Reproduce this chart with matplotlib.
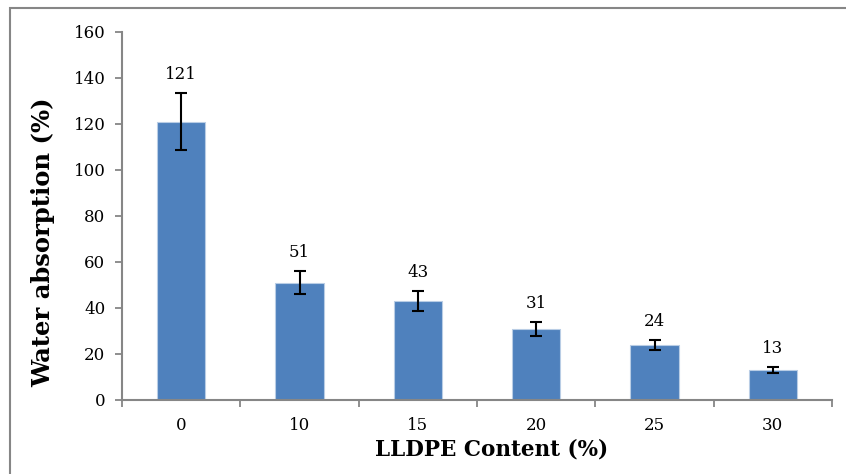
import matplotlib.pyplot as plt
from matplotlib.patches import Rectangle
import numpy as np

# LLDPE content vs water absorption
content = ['0', '10', '15', '20', '25', '30']
absorption = [121, 51, 43, 31, 24, 13]
errors = [12.5, 5, 4.3, 3, 2.3, 1.4]

plt.rcParams['font.family'] = ['DejaVu Serif']

fig = plt.figure(figsize=(8.46, 4.74), dpi=100)
ax = fig.add_axes([122/846, 74/474, 710/846, 368/474])

x = np.arange(len(content))
ax.bar(x, absorption, width=0.41, color='#4F81BD', edgecolor='#B9CDE5', linewidth=0.8,
       yerr=errors, error_kw=dict(ecolor='black', elinewidth=1.5, capsize=4.5, capthick=1.5))

for xi, v, e in zip(x, absorption, errors):
    ax.annotate(str(v), (xi, v + e), xytext=(0, 7), textcoords='offset points',
                ha='center', va='bottom', fontsize=12)

ax.set_xlim(-0.5, len(content) - 0.5)
ax.set_ylim(0, 160)
ax.set_yticks(range(0, 161, 20))
ax.set_xticks(x)
ax.set_xticklabels(content)
ax.set_xticks(np.arange(-0.5, len(content)), minor=True)
ax.tick_params(axis='x', which='major', length=0, pad=12, labelsize=12)
ax.tick_params(axis='x', which='minor', length=5, width=1.3, color='#868686', direction='out')
ax.tick_params(axis='y', length=5, width=1.3, color='#868686', direction='out', pad=7, labelsize=12)

for s in ['top', 'right']:
    ax.spines[s].set_visible(False)
for s in ['left', 'bottom']:
    ax.spines[s].set_color('#868686')
    ax.spines[s].set_linewidth(1.5)

ax.set_xlabel('LLDPE Content (%)', fontsize=15.5, fontweight='bold')
ax.set_ylabel('Water absorption (%)', fontsize=17.5, fontweight='bold')
ax.xaxis.set_label_coords(0.521, -0.105)
ax.yaxis.set_label_coords(-0.094, 0.43)

fig.patches.append(Rectangle((10/846, -0.1), 1.0, 1.1 - 8/474, transform=fig.transFigure,
                             fill=False, edgecolor='#868686', linewidth=1.5))

fig.savefig('out.png', dpi=100)
